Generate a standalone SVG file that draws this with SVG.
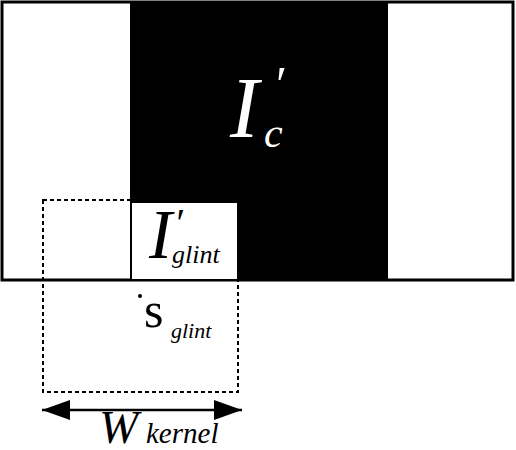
<svg xmlns="http://www.w3.org/2000/svg" width="516" height="450" viewBox="0 0 516 450">
<defs>
<style>
.it{font-family:"Liberation Serif","Times New Roman",serif;font-style:italic}
.rm{font-family:"Liberation Serif","Times New Roman",serif;font-style:normal}
</style>
<marker id="ah" viewBox="0 0 28 20" refX="28" refY="10" markerWidth="28" markerHeight="20" markerUnits="userSpaceOnUse" orient="auto-start-reverse">
<path d="M0,0 L28,10 L0,20 Z" fill="#000"/>
</marker>
</defs>
<rect width="516" height="450" fill="#fff"/>
<g id="image-frame">
<rect x="2" y="2" width="511" height="278" fill="#fff" stroke="#000" stroke-width="3"/>
</g>
<g id="Ic">
<rect x="130" y="1" width="258" height="280" fill="#000"/>
<text class="it" fill="#fff"><tspan x="230" y="137" font-size="86">I</tspan><tspan x="273" y="101" font-size="50">′</tspan><tspan x="264" y="147" font-size="42">c</tspan></text>
</g>
<g id="kernel-window">
<rect x="43" y="200" width="195" height="192" fill="none" stroke="#000" stroke-width="2" stroke-dasharray="4,3"/>
</g>
<g id="Iglint">
<rect x="132" y="203" width="105" height="76" fill="#fff"/>
<text class="it" fill="#000"><tspan x="149" y="258" font-size="69">I</tspan><tspan x="174" y="236" font-size="40">′</tspan><tspan x="172" y="263" font-size="26">glint</tspan></text>
</g>
<g id="sglint">
<circle cx="140" cy="296" r="2" fill="#000"/>
<text fill="#000"><tspan class="rm" x="144" y="327" font-size="50">s</tspan><tspan class="it" x="171" y="338" font-size="22">glint</tspan></text>
</g>
<g id="connectors">
<line x1="42" y1="410" x2="242" y2="410" stroke="#000" stroke-width="2.5" marker-start="url(#ah)" marker-end="url(#ah)"/>
</g>
<g id="Wkernel">
<text class="it" fill="#000"><tspan x="99" y="443" font-size="47">W</tspan><tspan x="146" y="443" font-size="29">kernel</tspan></text>
</g>
</svg>
